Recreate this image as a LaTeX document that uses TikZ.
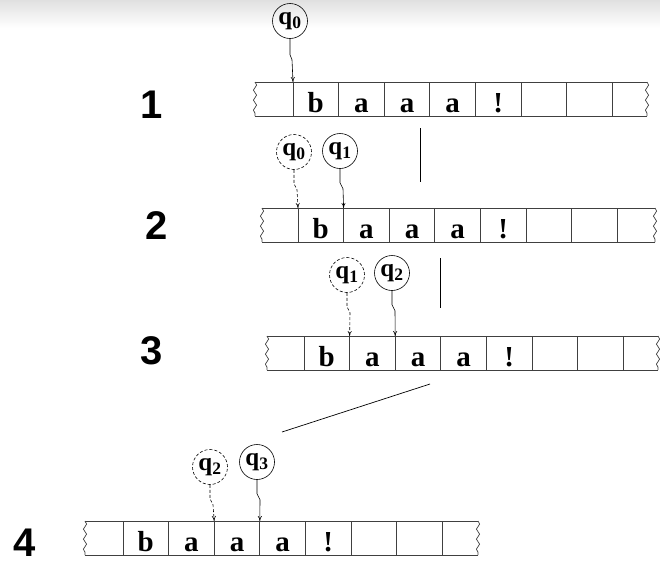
\documentclass[tikz,border=0pt]{standalone}
\usepackage{fontspec}
\setmainfont{Liberation Serif}
\setsansfont{Liberation Sans}
\usetikzlibrary{arrows.meta, positioning, decorations.pathmorphing}

\tikzset{
  tapeline/.style={draw=black!75, line width=0.7pt},
  tapeend/.style={tapeline, decorate, decoration={snake, amplitude=1.6pt, segment length=10pt}},
  sym/.style={font=\fontsize{29}{29}\selectfont\bfseries, anchor=base, inner sep=0pt},
  readhead/.style={circle, draw, line width=0.6pt, minimum size=35pt, inner sep=0pt,
    font=\fontsize{25}{25}\selectfont\bfseries},
  oldhead/.style={readhead, dash pattern=on 3pt off 2pt},
  headmove/.style={-{To[length=5pt,width=4pt]}, line width=0.6pt},
  oldmove/.style={headmove, dash pattern=on 3pt off 2pt},
  stepno/.style={font=\sffamily\fontsize{40}{40}\selectfont\bfseries},
}

\begin{document}
\begin{tikzpicture}[x=1pt, y=-1pt]
    \useasboundingbox (0,0) rectangle (660,565);
    \shade[top color=black!12, bottom color=white] (0,0) rectangle (660,28);

    % Tapes with the word b a a a !
    \foreach \tp/\xl/\xa/\xr/\yt in {1/255/293/647/82, 2/262/298/655/208, 3/267/304/658/336, 4/85/123/478/521}{
        \draw[tapeline] (\xl,\yt) -- (\xr,\yt) (\xl,\yt+34) -- (\xr,\yt+34);
        \draw[tapeend] (\xl,\yt) -- (\xl,\yt+34);
        \draw[tapeend] (\xr,\yt) -- (\xr,\yt+34);
        \foreach \k in {0,...,7}{
            \coordinate (t\tp c\k) at (\xa+\k*45.6,\yt);
            \draw[tapeline] (t\tp c\k) -- ++(0,34);
        }
        \foreach \s [count=\i] in {b,a,a,a,!}
            \node[sym] (t\tp s\i) at (\xa+\i*45.6-22.8,\yt+30) {\s};
    }

    % Step numbers
    \node[stepno] (n1) at (152,105) {1};
    \node[stepno] (n2) at (157,226) {2};
    \node[stepno] (n3) at (152,351) {3};
    \node[stepno] (n4) at (25,543) {4};

    % Step 1
    \node[readhead] (h1) at (290,21) {q\textsubscript{0}};
    \draw[headmove] (h1.south) -- ++(0,16) -- ++(2,5) -- (t1c0);

    % Step 2
    \node[oldhead] (h2a) at (294,152) {q\textsubscript{0}};
    \node[readhead] (h2b) at (340,151) {q\textsubscript{1}};
    \draw[oldmove] (h2a.south) -- ++(0,14) -- ++(3,6) -- (t2c0);
    \draw[headmove] (h2b.south) -- ++(0,14) -- ++(3,6) -- (t2c1);

    % Step 3
    \node[oldhead] (h3a) at (347,275) {q\textsubscript{1}};
    \node[readhead] (h3b) at (392,273) {q\textsubscript{2}};
    \draw[oldmove] (h3a.south) -- ++(0,14) -- ++(3,6) -- (t3c1);
    \draw[headmove] (h3b.south) -- ++(0,14) -- ++(3,6) -- (t3c2);

    % Step 4
    \node[oldhead] (h4a) at (210,467) {q\textsubscript{2}};
    \node[readhead] (h4b) at (257,462) {q\textsubscript{3}};
    \draw[oldmove] (h4a.south) -- ++(0,14) -- ++(3,6) -- (t4c2);
    \draw[headmove] (h4b.south) -- ++(0,14) -- ++(3,6) -- (t4c3);

    % Loose strokes between the steps
    \coordinate (v1a) at (420,128);
    \coordinate (v1b) at (420,182);
    \coordinate (v2a) at (440,258);
    \coordinate (v2b) at (440,308);
    \coordinate (d1a) at (430,384);
    \coordinate (d1b) at (282,432);
    \draw[line width=0.7pt] (v1a) -- (v1b);
    \draw[line width=0.7pt] (v2a) -- (v2b);
    \draw[line width=0.7pt] (d1a) -- (d1b);
\end{tikzpicture}
\end{document}
